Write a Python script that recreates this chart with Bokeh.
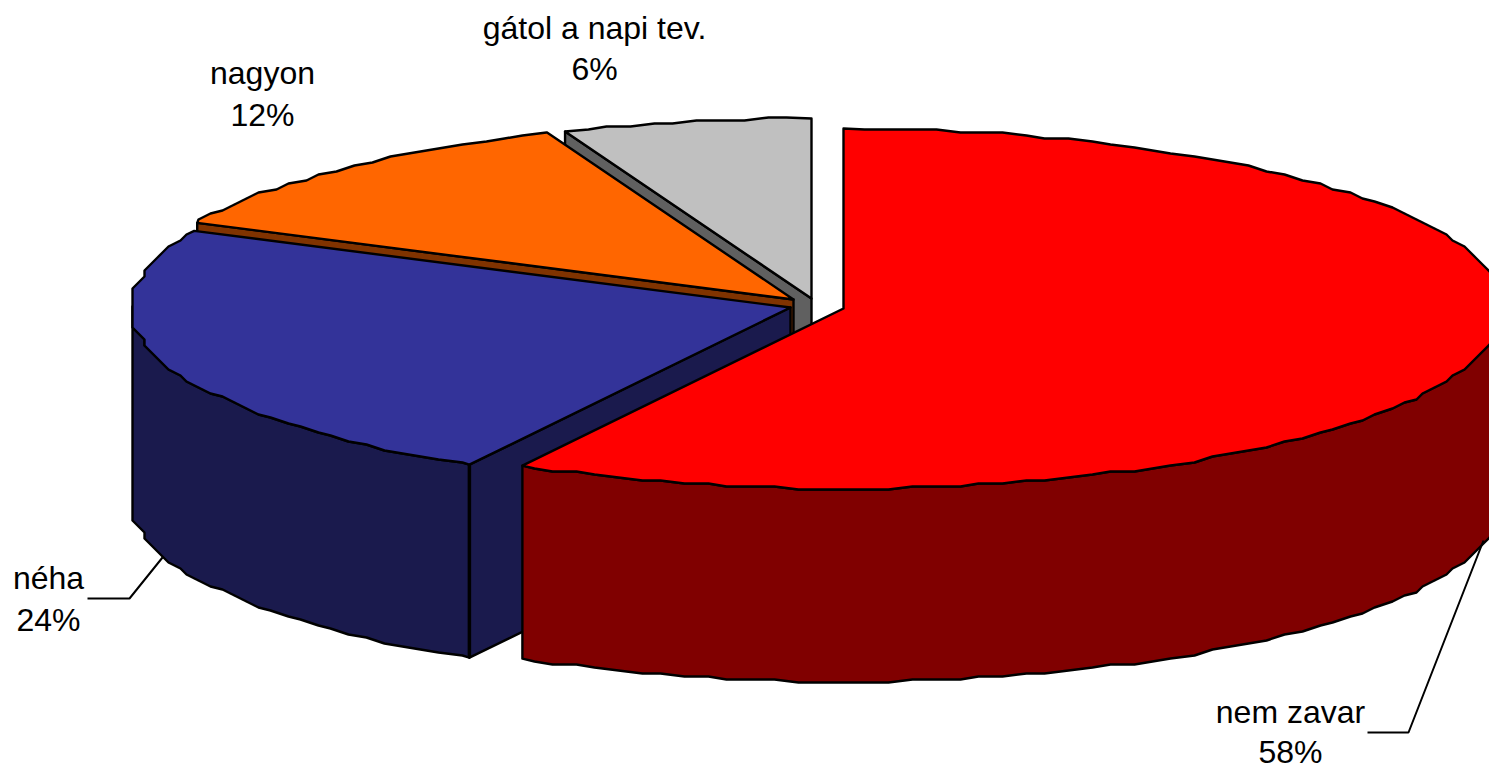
import math
from bokeh.plotting import figure
from bokeh.core.properties import value
from bokeh.embed import file_html
from bokeh.resources import INLINE

# data
categories = ["nem zavar", "néha", "nagyon", "gátol a napi tev."]
percent = [58.1, 23.9, 11.9, 6.1]
top_colors = ["#FF0000", "#333399", "#FF6600", "#C0C0C0"]
wall_colors = ["#800000", "#1A1A4D", "#803300", "#606060"]

# layout (reference pixel coordinates)
cx = [843, 790, 793, 811]
cy = [308, 307, 299, 298]
RX, RY, DEPTH = 659, 180, 193
QX, QY = 6, 3
STEP = 2.0
label_x = [1290, 48, 262, 594]
label_y1 = [711, 577, 72, 27]
label_y2 = [751, 619, 114, 68]
FONT = "32px"
LW = 2.4

starts, ends = [], []
acc = 0.0
for v in percent:
    starts.append(acc * 3.6)
    acc += v
    ends.append(acc * 3.6)
boundaries = set(starts + ends)


def rim(i, a0, a1):
    angles = [a0]
    k = math.floor(a0 / STEP) + 1
    while k * STEP < a1:
        angles.append(k * STEP)
        k += 1
    angles.append(a1)
    pts = []
    for ang in angles:
        a = math.radians(ang)
        x = cx[i] + RX * math.sin(a)
        y = cy[i] - RY * math.cos(a)
        if ang not in boundaries:
            x = round(x / QX) * QX
            y = round(y / QY) * QY
        if not pts or pts[-1] != (x, y):
            pts.append((x, y))
    return pts


p = figure(width=1489, height=770, x_range=(0, 1489), y_range=(770, 0),
           toolbar_location=None, output_backend="svg", min_border=0,
           outline_line_color=None, background_fill_color="white")
p.axis.visible = False
p.grid.visible = False


def poly(pts, color, lw=LW):
    p.patch([q[0] for q in pts], [q[1] for q in pts], fill_color=color,
            line_color="black", line_width=lw, line_join="round")


# painter's order: back slices first, exploded front slice last
for i in [3, 2, 1, 0]:
    c = (cx[i], cy[i])
    a0, a1 = starts[i], ends[i]
    r = rim(i, a0, a1)
    if i == 0:
        # front wall of the large slice
        front = rim(i, 90, a1)
        poly(front + [(x, y + DEPTH) for x, y in reversed(front)], wall_colors[i])
    else:
        # radial wall at the start edge
        s = r[0]
        poly([c, s, (s[0], s[1] + DEPTH), (c[0], c[1] + DEPTH)], wall_colors[i])
    if i == 1:
        front = rim(i, a0, 270)
        poly(front + [(x, y + DEPTH) for x, y in reversed(front)], wall_colors[i])
        s = r[0]
        p.line([s[0], s[0]], [s[1], s[1] + DEPTH], line_color="black", line_width=3.5)
    poly([c] + r, top_colors[i])

# leader lines
p.line([1483, 1408, 1367], [540, 732, 732], line_color="black", line_width=2)
p.line([162, 129, 87], [557, 598, 598], line_color="black", line_width=2)

# labels: name on the first line, rounded share on the second
p.text(x=label_x, y=label_y1, text=categories, text_font=value("Liberation Sans"),
       text_font_size=FONT, text_align="center", text_baseline="middle", text_color="black")
p.text(x=label_x, y=label_y2, text=[f"{round(v)}%" for v in percent],
       text_font=value("Liberation Sans"),
       text_font_size=FONT, text_align="center", text_baseline="middle", text_color="black")

open("out.html", "w").write(file_html(p, INLINE))
